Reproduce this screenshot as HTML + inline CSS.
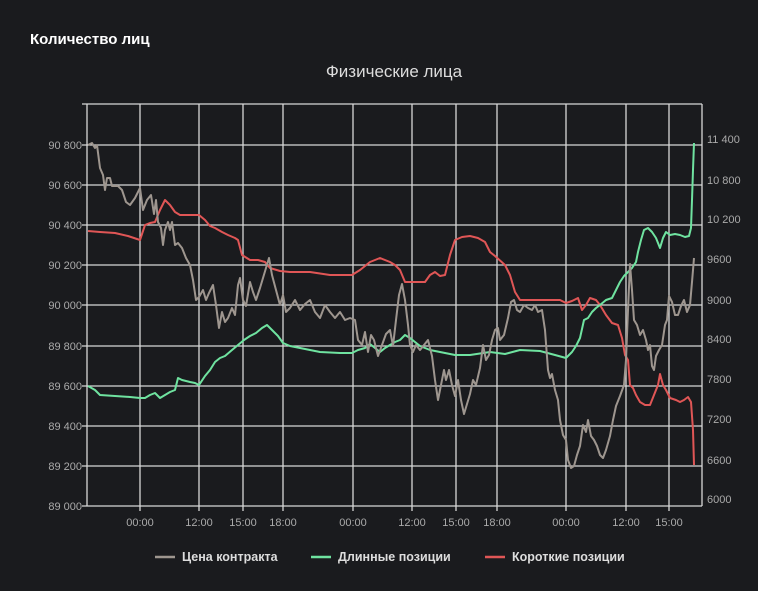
<!DOCTYPE html>
<html><head><meta charset="utf-8"><style>
html,body{margin:0;padding:0;background:#1a1b1e;}
svg{display:block;font-family:"Liberation Sans",sans-serif;}
</style></head><body>
<svg width="758" height="591" viewBox="0 0 758 591" xmlns="http://www.w3.org/2000/svg">
<rect width="758" height="591" fill="#1a1b1e"/>
<text x="30" y="44" fill="#fff" font-size="15" font-weight="bold">Количество лиц</text>
<text x="394" y="77" fill="#ddd" font-size="17" text-anchor="middle">Физические лица</text>
<g stroke="#d8d8d8" stroke-width="1.3" fill="none">
<line x1="82" y1="104" x2="702" y2="104"/>
<line x1="82" y1="145" x2="702" y2="145"/>
<line x1="82" y1="185" x2="702" y2="185"/>
<line x1="82" y1="225" x2="702" y2="225"/>
<line x1="82" y1="265" x2="702" y2="265"/>
<line x1="82" y1="305" x2="702" y2="305"/>
<line x1="82" y1="346" x2="702" y2="346"/>
<line x1="82" y1="386" x2="702" y2="386"/>
<line x1="82" y1="426" x2="702" y2="426"/>
<line x1="82" y1="466" x2="702" y2="466"/>
<line x1="82" y1="506" x2="702" y2="506"/>
<line x1="87" y1="104" x2="87" y2="506"/>
<line x1="702" y1="104" x2="702" y2="506"/>
<line x1="140" y1="104" x2="140" y2="511"/>
<line x1="199" y1="104" x2="199" y2="511"/>
<line x1="243" y1="104" x2="243" y2="511"/>
<line x1="283" y1="104" x2="283" y2="511"/>
<line x1="353" y1="104" x2="353" y2="511"/>
<line x1="412" y1="104" x2="412" y2="511"/>
<line x1="456" y1="104" x2="456" y2="511"/>
<line x1="497" y1="104" x2="497" y2="511"/>
<line x1="566" y1="104" x2="566" y2="511"/>
<line x1="626" y1="104" x2="626" y2="511"/>
<line x1="669" y1="104" x2="669" y2="511"/>
</g>
<g fill="#aaa" font-size="11" text-anchor="end">
<text x="82" y="149">90 800</text><text x="82" y="189">90 600</text><text x="82" y="229">90 400</text>
<text x="82" y="269">90 200</text><text x="82" y="309">90 000</text><text x="82" y="350">89 800</text>
<text x="82" y="390">89 600</text><text x="82" y="430">89 400</text><text x="82" y="470">89 200</text>
<text x="82" y="510">89 000</text>
</g>
<g fill="#aaa" font-size="11">
<text x="707" y="143">11 400</text><text x="707" y="184">10 800</text><text x="707" y="223">10 200</text>
<text x="707" y="263">9600</text><text x="707" y="304">9000</text><text x="707" y="343">8400</text>
<text x="707" y="383">7800</text><text x="707" y="423">7200</text><text x="707" y="464">6600</text>
<text x="707" y="503">6000</text>
</g>
<g fill="#aaa" font-size="11" text-anchor="middle">
<text x="140" y="526">00:00</text><text x="199" y="526">12:00</text><text x="243" y="526">15:00</text>
<text x="283" y="526">18:00</text><text x="353" y="526">00:00</text><text x="412" y="526">12:00</text>
<text x="456" y="526">15:00</text><text x="497" y="526">18:00</text><text x="566" y="526">00:00</text>
<text x="626" y="526">12:00</text><text x="669" y="526">15:00</text>
</g>
<g fill="none" stroke-width="2" stroke-linejoin="round">
<polyline stroke="#e05656" points="88,231 100,232 115,233 128,236 140,240 145,225 150,223 155,222 160,210 165,200 170,205 175,212 180,215 190,215 199,215 205,220 210,226 215,228 222,232 228,235 235,238 238,240 242,255 250,260 258,260 265,262 270,268 280,271 290,272 310,272 330,275 352,275 360,270 370,262 380,258 390,262 395,265 400,270 405,282 415,282 425,282 430,275 435,272 440,276 445,275 450,255 455,240 462,237 470,236 478,238 485,242 490,252 495,256 505,265 510,275 515,292 520,300 540,300 560,300 566,303 572,301 578,298 582,310 586,305 590,298 596,300 600,305 606,315 612,323 618,325 622,338 625,355 628,360 630,385 633,388 636,395 640,402 645,405 650,405 654,395 658,385 660,374 663,385 666,390 670,398 676,400 680,402 684,400 688,397 691,402 693,430 694,465"/>
<polyline stroke="#6fe3a0" points="88,386 95,390 100,395 115,396 130,397 140,398 145,398 150,395 155,393 160,398 165,395 170,392 175,390 178,378 182,380 190,382 195,383 199,385 205,376 210,370 215,362 220,358 225,356 232,350 238,345 244,340 250,336 256,333 262,328 267,325 272,330 278,336 283,343 290,346 300,348 310,350 320,352 340,353 352,353 358,350 365,348 370,344 375,348 380,352 385,348 390,345 395,342 400,340 405,335 410,338 415,342 420,346 430,350 440,352 455,355 470,355 490,352 505,354 520,350 540,351 555,355 566,358 572,352 576,346 580,338 584,320 588,318 592,312 596,308 600,305 606,300 612,298 616,290 620,282 624,276 628,272 632,268 636,262 638,252 641,240 644,230 648,228 652,232 656,238 660,248 663,238 666,232 670,235 675,234 680,235 685,237 689,236 691,228 692,200 693,170 694,143"/>
<polyline stroke="#9e968f" points="88,145 92,143 95,148 97,145 100,168 103,175 105,190 107,178 110,178 112,186 118,186 122,190 126,202 130,205 135,198 140,188 143,210 147,200 151,195 154,214 156,200 158,222 161,228 163,245 165,230 168,222 170,230 172,222 175,245 178,243 182,248 186,258 190,265 193,280 196,300 199,297 203,290 206,300 209,293 213,285 216,305 219,328 222,312 225,322 228,318 232,308 235,315 238,285 240,278 243,300 246,306 250,282 253,292 256,300 260,288 263,278 266,268 269,258 272,275 276,290 280,305 283,295 286,312 290,308 295,300 300,310 305,304 310,300 315,312 320,318 325,305 330,312 335,318 340,312 345,320 350,318 355,320 358,340 362,345 365,332 368,352 371,335 374,340 378,356 382,345 386,334 390,330 393,346 396,320 399,295 402,284 405,300 408,325 410,345 413,352 416,345 420,350 424,345 428,340 432,356 435,380 438,400 441,385 444,370 446,380 449,370 452,385 455,396 458,380 461,400 464,414 467,404 470,394 473,380 476,385 480,368 483,345 486,360 489,355 492,340 495,330 498,328 500,340 504,335 508,318 511,302 514,300 517,310 520,312 524,305 528,308 532,310 535,305 538,312 542,310 545,330 548,370 550,378 552,374 555,390 558,400 560,420 563,435 566,440 568,460 571,468 574,466 577,455 580,446 583,425 586,432 588,420 591,436 594,440 597,446 600,455 603,458 606,450 610,436 613,420 616,406 620,396 624,385 626,360 628,310 630,264 632,290 634,320 637,325 640,335 643,330 646,340 648,350 650,345 652,366 654,370 656,356 659,350 662,345 665,325 667,320 669,296 672,302 675,315 678,315 681,306 684,300 687,312 690,305 692,282 694,258"/>
</g>
<g font-size="12.5" font-weight="bold" fill="#ddd">
<line x1="155" y1="557" x2="175" y2="557" stroke="#9e968f" stroke-width="2.5"/>
<text x="182" y="561">Цена контракта</text>
<line x1="311" y1="557" x2="331" y2="557" stroke="#6fe3a0" stroke-width="2.5"/>
<text x="338" y="561">Длинные позиции</text>
<line x1="485" y1="557" x2="505" y2="557" stroke="#e05656" stroke-width="2.5"/>
<text x="512" y="561">Короткие позиции</text>
</g>
</svg>
</body></html>
